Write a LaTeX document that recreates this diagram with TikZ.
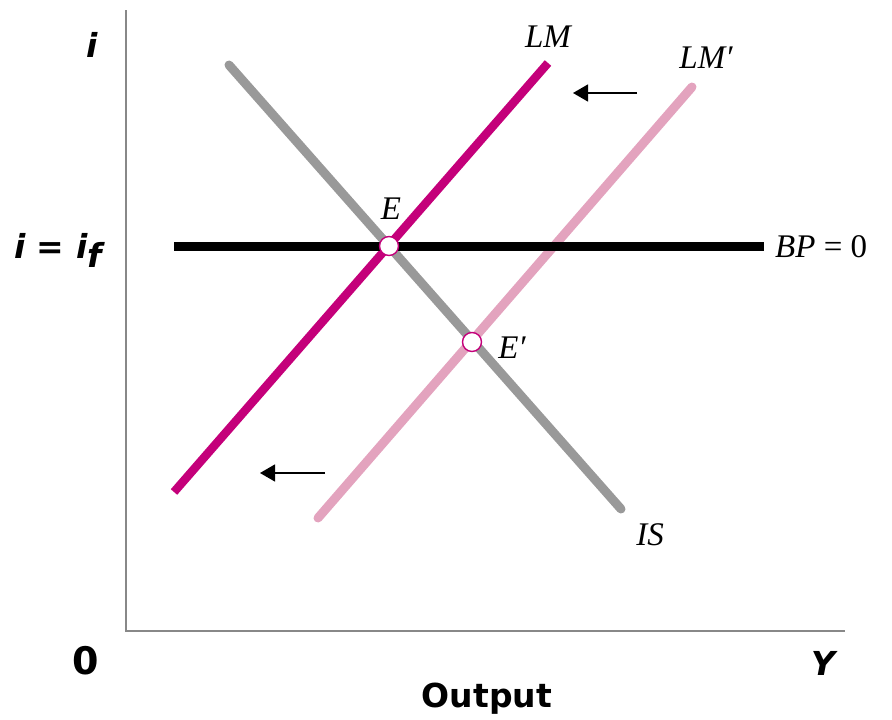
\documentclass[tikz,border=0pt]{standalone}
\usepackage{fontspec}
\setmainfont{Liberation Serif}
\newfontfamily\axisfont{DejaVu Sans}
\usetikzlibrary{arrows.meta}
\definecolor{lmcol}{HTML}{C4007A}
\definecolor{lmpcol}{HTML}{E3A3BE}
\definecolor{iscol}{HTML}{999999}
\definecolor{axcol}{HTML}{888888}
\tikzset{
  axisline/.style={draw=axcol, line width=1.8pt},
  curve/.style={line width=9pt},
  eqdot/.style={circle, draw=lmcol, fill=white, line width=1.4pt, minimum size=19pt, inner sep=0pt},
  shiftarrow/.style={draw=black, line width=1.3pt, -{Triangle[length=15pt,width=17pt]}},
  serlab/.style={font=\fontsize{33}{33}\selectfont\itshape, inner sep=0pt},
  axlab/.style={font=\fontsize{33}{33}\selectfont\axisfont\bfseries, inner sep=0pt}
}
\begin{document}
\begin{tikzpicture}[x=1pt,y=-1pt]
\useasboundingbox (0,0) rectangle (892,720);
% axes
\coordinate (top) at (126,10);
\coordinate (origin) at (126,631);
\coordinate (xend) at (845,631);
\draw[axisline] (top) -- (origin) -- (xend);
% curves
\coordinate (isA) at (229,65);
\coordinate (isB) at (621,509);
\coordinate (lmA) at (174,492);
\coordinate (lmB) at (548,63);
\coordinate (lmpA) at (318,518);
\coordinate (lmpB) at (692,87);
\coordinate (bpA) at (174,246);
\coordinate (bpB) at (764,246);
\draw[curve, draw=iscol, line cap=round] (isA) -- (isB);
\draw[curve, draw=lmpcol, line cap=round] (lmpA) -- (lmpB);
\draw[curve, draw=lmcol, line width=8.5pt] (lmA) -- (lmB);
\draw[curve, draw=black] (bpA) -- (bpB);
% equilibria
\node[eqdot] (E) at (389,246) {};
\node[eqdot] (Ep) at (472,342) {};
% labels
\node[serlab] (Elab) at (391,209) {E};
\node[serlab] (Eplab) at (512,348) {E′};
\node[serlab] (LMlab) at (548,37) {LM};
\node[serlab] (LMplab) at (706,58) {LM′};
\node[serlab, anchor=west] (BPlab) at (775,247) {BP \textup{= 0}};
\node[serlab] (ISlab) at (650,535) {IS};
% shift arrows
\coordinate (a1s) at (637,93);
\coordinate (a1e) at (573,93);
\coordinate (a2s) at (325,473);
\coordinate (a2e) at (260,473);
\draw[shiftarrow] (a1s) -- (a1e);
\draw[shiftarrow] (a2s) -- (a2e);
% axis labels
\node[axlab] (ilab) at (92,45) {\itshape i};
\node[axlab, anchor=base east] (iflab) at (102,258) {\itshape i = i\raisebox{-0.28em}{f}};
\node[axlab, font=\fontsize{38}{38}\selectfont\axisfont\bfseries] (zero) at (86,661) {0};
\node[axlab] (Ylab) at (823,663) {\itshape Y};
\node[axlab] (outlab) at (487,699) {Output};
\end{tikzpicture}
\end{document}
